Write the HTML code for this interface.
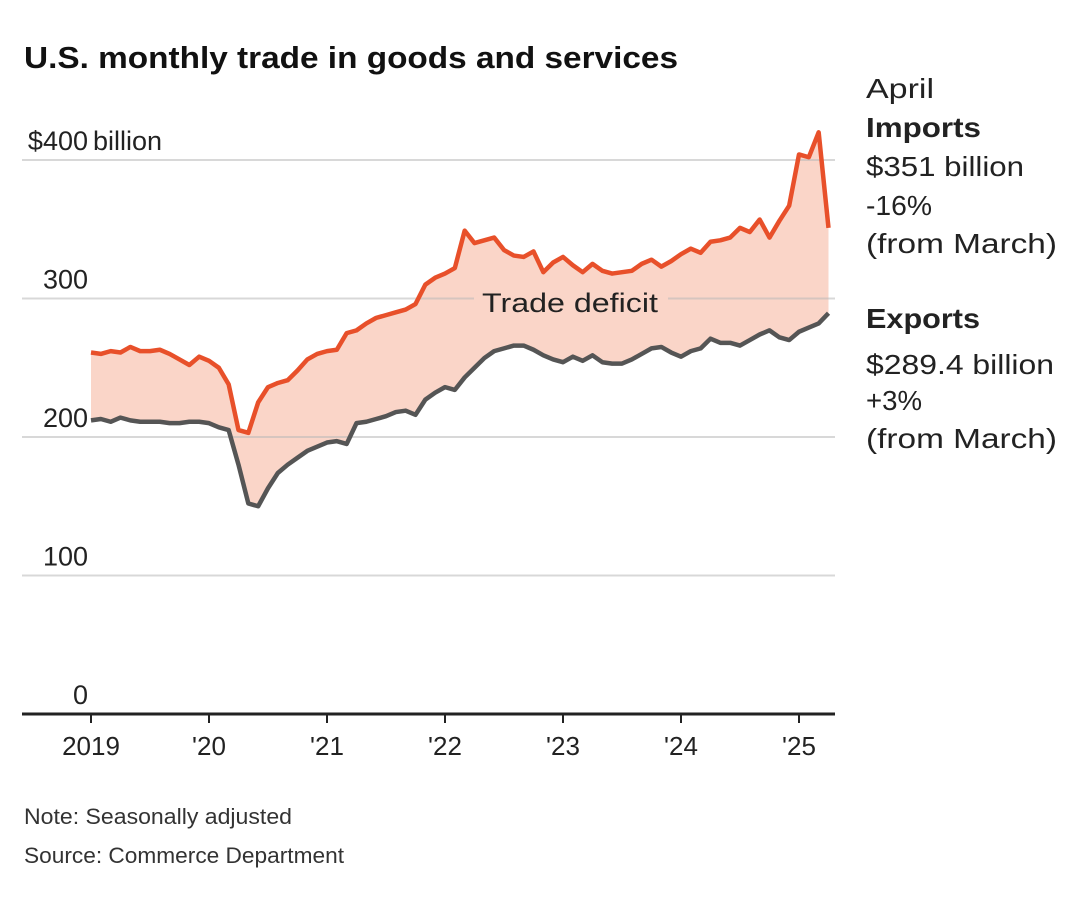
<!DOCTYPE html>
<html><head><meta charset="utf-8"><style>
body{margin:0;background:#fff;width:1080px;height:907px;overflow:hidden;font-family:"Liberation Sans",sans-serif;}
svg{position:absolute;left:0;top:0}
</style></head><body>
<svg width="1080" height="907" id="chart">
<text x="24" y="68" font-size="31" font-weight="bold" fill="#111" textLength="654" lengthAdjust="spacingAndGlyphs">U.S. monthly trade in goods and services</text>
<g font-size="28" fill="#222">
<text x="866" y="98" textLength="68" lengthAdjust="spacingAndGlyphs">April</text>
<text x="866" y="137" font-weight="bold" textLength="115" lengthAdjust="spacingAndGlyphs">Imports</text>
<text x="866" y="176" textLength="158" lengthAdjust="spacingAndGlyphs">$351 billion</text>
<text x="866" y="215" textLength="66" lengthAdjust="spacingAndGlyphs">-16%</text>
<text x="866" y="253" textLength="191" lengthAdjust="spacingAndGlyphs">(from March)</text>
<text x="866" y="328" font-weight="bold" textLength="114" lengthAdjust="spacingAndGlyphs">Exports</text>
<text x="866" y="374" textLength="188" lengthAdjust="spacingAndGlyphs">$289.4 billion</text>
<text x="866" y="410" textLength="56" lengthAdjust="spacingAndGlyphs">+3%</text>
<text x="866" y="448" textLength="191" lengthAdjust="spacingAndGlyphs">(from March)</text>
</g>
<text x="24" y="824" font-size="22" fill="#333" textLength="268" lengthAdjust="spacingAndGlyphs">Note: Seasonally adjusted</text>
<text x="24" y="863" font-size="22" fill="#333" textLength="320" lengthAdjust="spacingAndGlyphs">Source: Commerce Department</text>
<g id="plot"></g>
</svg>
<script>
const yTicks=[0,100,200,300,400];
const yearLabels=['2019',"'20","'21","'22","'23","'24","'25"];
const imports=[261,260,262,261,265,262,262,263,260,256,252,258,
255,250,238,205,203,225,236,239,241,248,256,260,
262,263,275,277,282,286,288,290,292,296,310,315,
318,322,349,340,342,344,335,331,330,334,319,326,
330,324,319,325,320,318,319,320,325,328,323,327,
332,336,333,341,342,344,351,348,357,344,356,367,
404,402,420,351];
const exportsV=[212,213,211,214,212,211,211,211,210,210,211,211,
210,207,205,180,152,150,163,174,180,185,190,193,
196,197,195,210,211,213,215,218,219,216,227,232,
236,234,243,250,257,262,264,266,266,263,259,256,
254,258,255,259,254,253,253,256,260,264,265,261,
258,262,264,271,268,268,266,270,274,277,272,270,
276,279,282,289.4];
const NS='http://www.w3.org/2000/svg';
const g=document.getElementById('plot');
const xS=i=>91+i*(118/12);
const yS=v=>714-v*1.385;
function mk(t,a){const e=document.createElementNS(NS,t);for(const k in a)e.setAttribute(k,a[k]);g.appendChild(e);return e;}
let d='M'+imports.map((v,i)=>xS(i)+','+yS(v)).join('L');
for(let i=exportsV.length-1;i>=0;i--)d+='L'+xS(i)+','+yS(exportsV[i]);
const area=mk('path',{d:d+'Z',fill:'#fad5c8'});


yTicks.forEach(v=>{
 if(v>0){const l=mk('line',{x1:22,x2:835,y1:yS(v),y2:yS(v),stroke:'#b8b8b8','stroke-opacity':0.55,'stroke-width':2});
 
 }
 const t=mk('text',{x:88,y:yS(v)-10,'font-size':27,fill:'#222','text-anchor':'end'});
 t.textContent=v===400?'$400':String(v);
 
 
 if(v===400){const b=mk('text',{x:93,y:yS(v)-10,'font-size':27,fill:'#222'});b.textContent='billion';
 
 }
});
const bg=mk('rect',{x:474,y:285,width:194,height:34,fill:'#fad5c8'});


const lab=mk('text',{x:570,y:312,'font-size':27,fill:'#222','text-anchor':'middle',textLength:176,lengthAdjust:'spacingAndGlyphs'});
lab.textContent='Trade deficit';


const li=mk('polyline',{points:imports.map((v,i)=>xS(i)+','+yS(v)).join(' '),fill:'none',stroke:'#e8502a','stroke-width':4.5,'stroke-linejoin':'round'});


const le=mk('polyline',{points:exportsV.map((v,i)=>xS(i)+','+yS(v)).join(' '),fill:'none',stroke:'#555','stroke-width':4.5,'stroke-linejoin':'round'});


const ax=mk('line',{x1:22,x2:835,y1:714,y2:714,stroke:'#222','stroke-width':3});


yearLabels.forEach((y,k)=>{
 const x=xS(k*12);
 const tk=mk('line',{x1:x,x2:x,y1:714,y2:723,stroke:'#222','stroke-width':2});
 
 
 const t=mk('text',{x:x,y:755,'font-size':26,fill:'#222','text-anchor':'middle'});
 t.textContent=y;
 
 
});
</script>
</body></html>
